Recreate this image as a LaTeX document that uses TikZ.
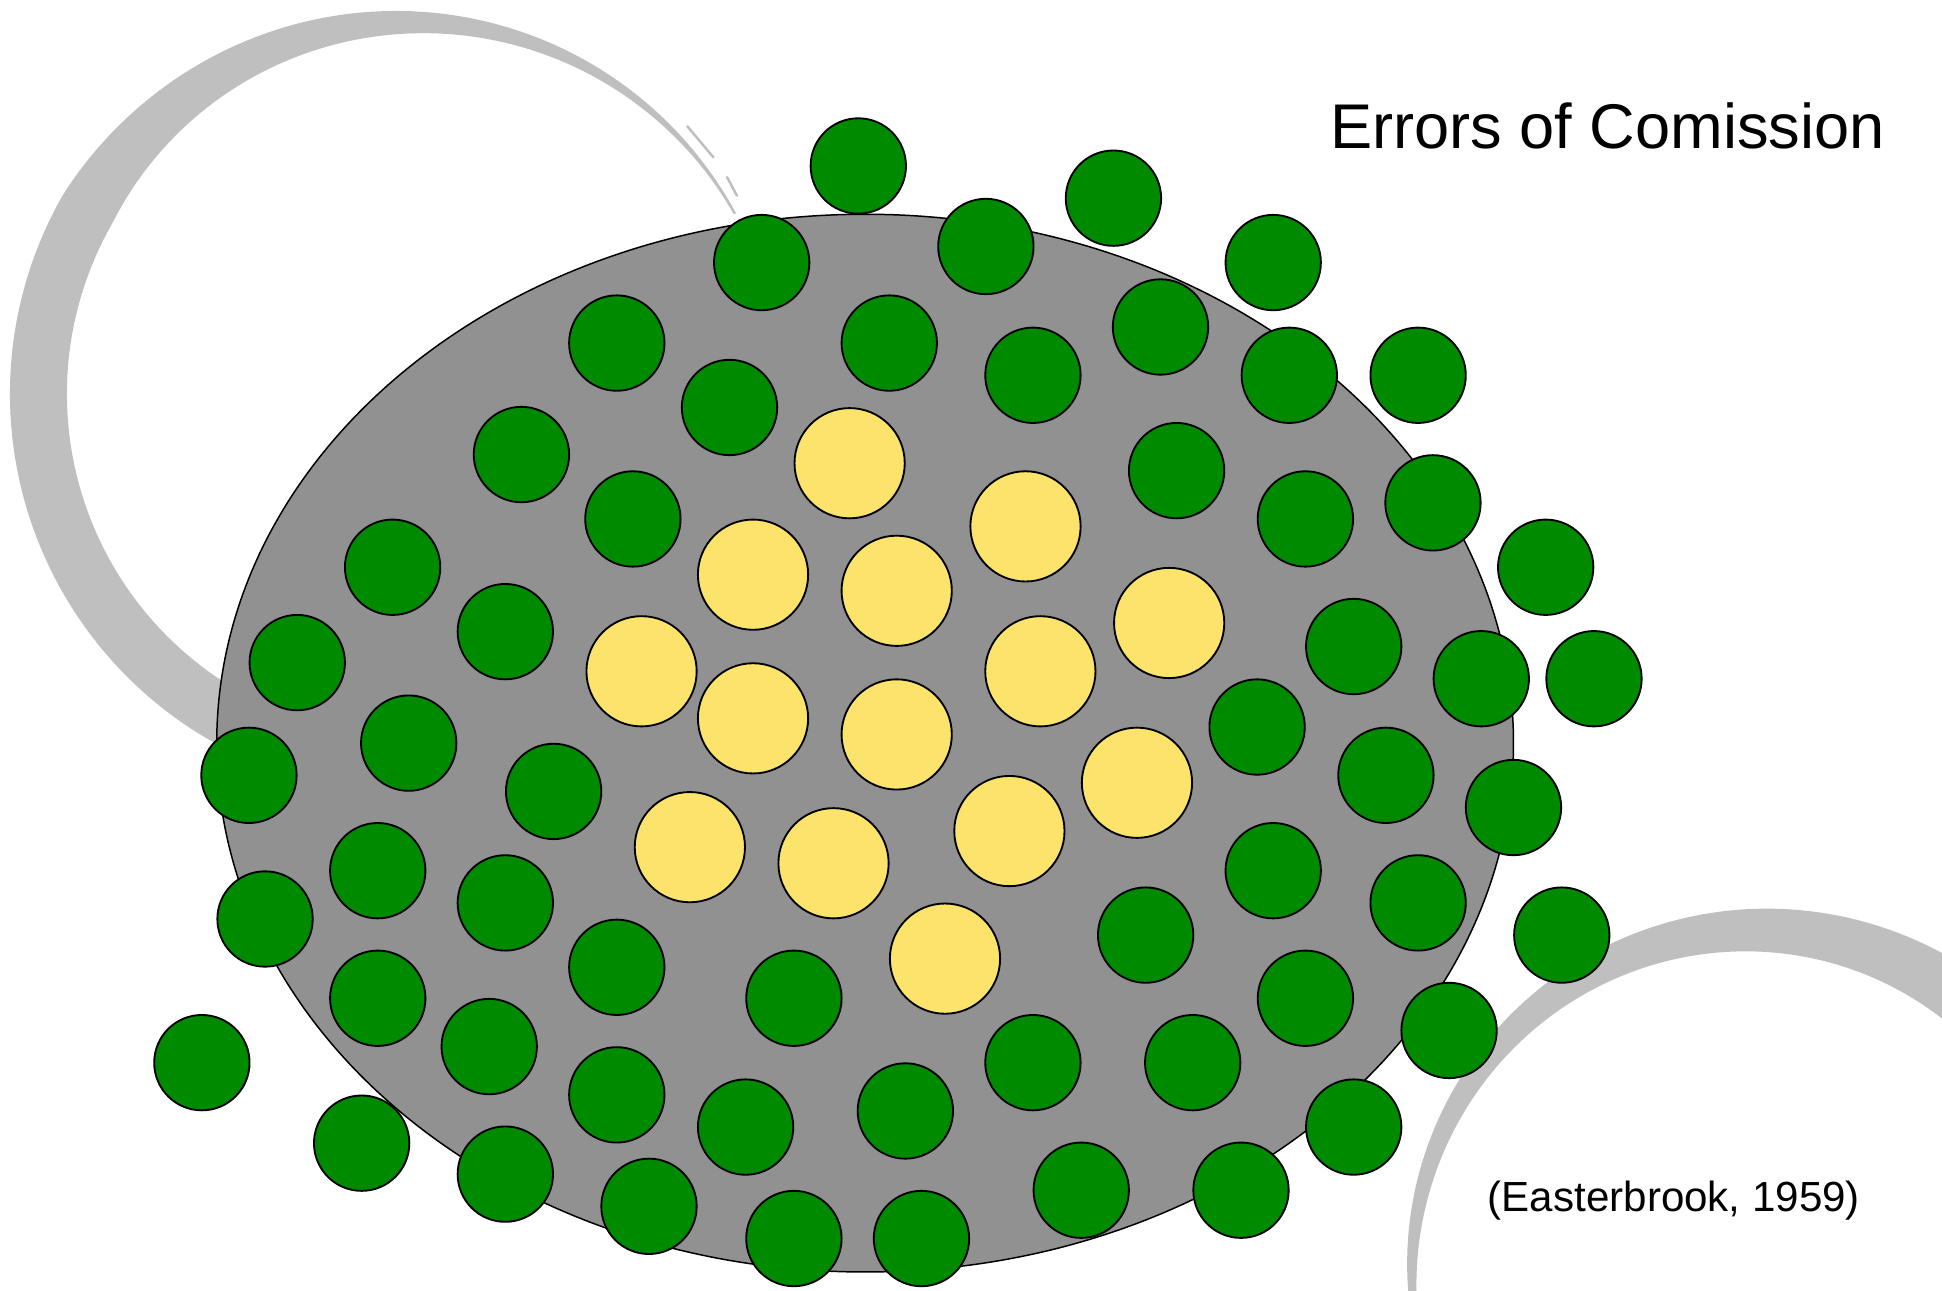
\documentclass[tikz,border=0pt]{standalone}
\usepackage{fontspec}
\setmainfont{Liberation Sans}
\usetikzlibrary{shapes.geometric}
\definecolor{dotgreen}{RGB}{0,138,0}
\definecolor{dotyellow}{RGB}{252,227,107}
\definecolor{fieldgray}{RGB}{145,145,145}
\definecolor{brushgray}{RGB}{191,191,191}
\tikzset{
  gdot/.style={circle, draw=black, line width=1.5pt, fill=dotgreen, inner sep=0pt, minimum size=77pt},
  ydot/.style={circle, draw=black, line width=1.5pt, fill=dotyellow, inner sep=0pt, minimum size=89pt},
  field/.style={ellipse, draw=black, line width=1.2pt, fill=fieldgray, inner sep=0pt, minimum width=1047pt, minimum height=854pt},
  label/.style={inner sep=0pt, anchor=base east, text=black},
  brushmark/.style={draw=brushgray, line width=2pt, line cap=round}
}
\begin{document}
\begin{tikzpicture}[x=1pt,y=-1pt,
  declare function={wa(\t)=min(46,2+44*(((\t-28)/122)^1.5));
                    wb(\t)=max(3,48-0.3*(\t-45));}]
\useasboundingbox (0,0) rectangle (1568,1041.6);
\begin{scope}
\clip (0,0) rectangle (1568,1041.6);
% brush stroke, top left
\fill[brushgray] plot[domain=29:250, samples=150, variable=\t]
  ({331+(300+0.5*wa(\t))*cos(\t)}, {318-(300+0.5*wa(\t))*sin(\t)})
  -- plot[domain=250:29, samples=150, variable=\t]
  ({331+(300-0.5*wa(\t))*cos(\t)}, {318-(300-0.5*wa(\t))*sin(\t)}) -- cycle;
\draw[brushmark] (555,102) -- (576,127);
\draw[brushmark] (587,143) -- (595,158);
% brush stroke, bottom right
\fill[brushgray] plot[domain=38:190, samples=120, variable=\t]
  ({1418+(278+0.5*wb(\t))*cos(\t)}, {1029-(278+0.5*wb(\t))*sin(\t)})
  -- plot[domain=190:38, samples=120, variable=\t]
  ({1418+(278-0.5*wb(\t))*cos(\t)}, {1029-(278-0.5*wb(\t))*sin(\t)}) -- cycle;
\end{scope}
% the field
\node[field] (field) at (698.5,600) {};
% green dots
\foreach \px/\py [count=\i] in {
 693/134, 899/160, 1028/212, 615/212, 796/199, 498/277, 718/277, 937/264, 834/303, 1041/303,
 1145/303, 589/329, 421/367, 950/380, 511/419, 1054/419, 1157/406, 317/458, 1248/458, 408/510,
 240/535, 1093/522, 1196/548, 1287/548, 330/600, 1015/587, 201/626, 447/639, 1119/626, 1222/652,
 305/703, 408/729, 1028/703, 1145/729, 214/742, 1261/755, 498/781, 925/755, 305/806, 641/806,
 1054/806, 395/845, 1170/832, 163/858, 834/858, 963/858, 498/884, 731/897, 602/910, 1093/910,
 292/923, 408/948, 524/974, 873/961, 1002/961, 641/1000, 744/1000}
  \node[gdot] (g\i) at (\px,\py) {};
% yellow dots
\foreach \px/\py [count=\i] in {
 686/374, 828/425, 608/464, 724/477, 944/503, 518/542, 840/542, 608/580, 724/593, 918/632,
 557/684, 673/697, 815/671, 763/774}
  \node[ydot] (y\i) at (\px,\py) {};
% texts
\node[label, font=\fontsize{51}{60}\selectfont] (title) at (1522,120) {Errors of Comission};
\node[label, font=\fontsize{34}{40}\selectfont] (cite) at (1502,978) {(Easterbrook, 1959)};
\end{tikzpicture}
\end{document}
